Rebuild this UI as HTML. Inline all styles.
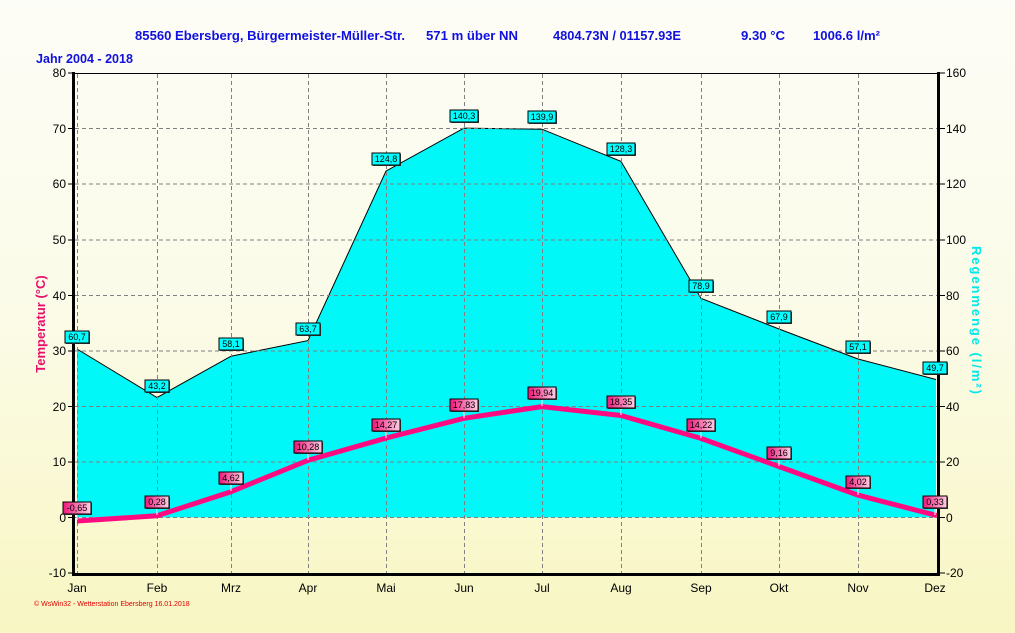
<!DOCTYPE html>
<html><head><meta charset="utf-8"><style>
html,body{margin:0;padding:0;width:1015px;height:633px;overflow:hidden}
body{background:linear-gradient(#fdfdf7 0%,#fbfbe8 50%,#f8f6c2 100%)}
text{font-family:"Liberation Sans",sans-serif}
</style></head><body>
<svg width="1015" height="633" viewBox="0 0 1015 633" xmlns="http://www.w3.org/2000/svg">
<defs>
<linearGradient id="pk" x1="0" x2="1" y1="0" y2="0"><stop offset="0" stop-color="#f0157a"/><stop offset="1" stop-color="#ffd0e4"/></linearGradient>
</defs>
<g font-weight="bold" font-size="13" fill="#1010e0">
<text x="135" y="40" textLength="270" lengthAdjust="spacingAndGlyphs">85560 Ebersberg, Bürgermeister-Müller-Str.</text>
<text x="426" y="40" textLength="92" lengthAdjust="spacingAndGlyphs">571 m über NN</text>
<text x="553" y="40" textLength="128" lengthAdjust="spacingAndGlyphs">4804.73N / 01157.93E</text>
<text x="741" y="40" textLength="44" lengthAdjust="spacingAndGlyphs">9.30 °C</text>
<text x="813" y="40" textLength="67" lengthAdjust="spacingAndGlyphs">1006.6 l/m²</text>
<text x="36" y="63" textLength="97" lengthAdjust="spacingAndGlyphs">Jahr  2004 - 2018</text>
</g>
<!-- rain area -->
<polygon points="77,517.4 77,349 157,397.5 231,356.2 308,340.6 386,171.1 464,128.1 542,129.2 621,161.4 701,298.4 779,329 858,359 936,379.5 936,517.4" fill="#00f8f8"/>
<polyline points="77,349 157,397.5 231,356.2 308,340.6 386,171.1 464,128.1 542,129.2 621,161.4 701,298.4 779,329 858,359 936,379.5" fill="none" stroke="#000" stroke-width="1"/>
<!-- grid -->
<g stroke="#808080" stroke-dasharray="4,3" stroke-width="1">
<line x1="75" x2="937" y1="128.5" y2="128.5"/><line x1="75" x2="937" y1="184" y2="184"/><line x1="75" x2="937" y1="240" y2="240"/><line x1="75" x2="937" y1="295.5" y2="295.5"/><line x1="75" x2="937" y1="351" y2="351"/><line x1="75" x2="937" y1="406.5" y2="406.5"/><line x1="75" x2="937" y1="462" y2="462"/><line x1="75" x2="937" y1="517.5" y2="517.5"/>
<line y1="74" y2="573" x1="77.5" x2="77.5"/><line y1="74" y2="573" x1="157.5" x2="157.5"/><line y1="74" y2="573" x1="231.5" x2="231.5"/><line y1="74" y2="573" x1="308.5" x2="308.5"/><line y1="74" y2="573" x1="386.5" x2="386.5"/><line y1="74" y2="573" x1="464.5" x2="464.5"/><line y1="74" y2="573" x1="542.5" x2="542.5"/><line y1="74" y2="573" x1="621.5" x2="621.5"/><line y1="74" y2="573" x1="701.5" x2="701.5"/><line y1="74" y2="573" x1="779.5" x2="779.5"/><line y1="74" y2="573" x1="858.5" x2="858.5"/>
</g>
<!-- temp line -->
<polyline points="77,521 157,515.8 231,491.7 308,460.3 386,438.1 464,418.3 542,406.6 621,415.5 701,438.4 779,466.5 858,495.1 937,515.6" fill="none" stroke="#ff0a80" stroke-width="5" stroke-linejoin="round"/>
<!-- axes -->
<line x1="73" y1="73.5" x2="939" y2="73.5" stroke="#000"/>
<line x1="73.5" y1="72" x2="73.5" y2="576" stroke="#000" stroke-width="3"/>
<line x1="938.5" y1="72" x2="938.5" y2="576" stroke="#000" stroke-width="3"/>
<line x1="72" y1="574.5" x2="940" y2="574.5" stroke="#000" stroke-width="3"/>
<g stroke="#000">
<line x1="68" x2="72" y1="73" y2="73"/><line x1="68" x2="72" y1="128.5" y2="128.5"/><line x1="68" x2="72" y1="184" y2="184"/><line x1="68" x2="72" y1="240" y2="240"/><line x1="68" x2="72" y1="295.5" y2="295.5"/><line x1="68" x2="72" y1="351" y2="351"/><line x1="68" x2="72" y1="406.5" y2="406.5"/><line x1="68" x2="72" y1="462" y2="462"/><line x1="68" x2="72" y1="517.5" y2="517.5"/><line x1="68" x2="72" y1="573" y2="573"/>
<line x1="940" x2="945" y1="73" y2="73"/><line x1="940" x2="945" y1="128.5" y2="128.5"/><line x1="940" x2="945" y1="184" y2="184"/><line x1="940" x2="945" y1="240" y2="240"/><line x1="940" x2="945" y1="295.5" y2="295.5"/><line x1="940" x2="945" y1="351" y2="351"/><line x1="940" x2="945" y1="406.5" y2="406.5"/><line x1="940" x2="945" y1="462" y2="462"/><line x1="940" x2="945" y1="517.5" y2="517.5"/><line x1="940" x2="945" y1="573" y2="573"/>
</g>
<g font-size="12" fill="#000" text-anchor="end">
<text x="66" y="77">80</text><text x="66" y="133">70</text><text x="66" y="188">60</text><text x="66" y="244">50</text><text x="66" y="300">40</text><text x="66" y="355">30</text><text x="66" y="411">20</text><text x="66" y="466">10</text><text x="66" y="522">0</text><text x="66" y="577">-10</text>
</g>
<g font-size="12" fill="#000">
<text x="946" y="77">160</text><text x="946" y="133">140</text><text x="946" y="188">120</text><text x="946" y="244">100</text><text x="946" y="300">80</text><text x="946" y="355">60</text><text x="946" y="411">40</text><text x="946" y="466">20</text><text x="946" y="522">0</text><text x="946" y="577">-20</text>
</g>
<g font-size="12" fill="#000" text-anchor="middle">
<text x="77" y="592">Jan</text><text x="157" y="592">Feb</text><text x="231" y="592">Mrz</text><text x="308" y="592">Apr</text><text x="386" y="592">Mai</text><text x="464" y="592">Jun</text><text x="542" y="592">Jul</text><text x="621" y="592">Aug</text><text x="701" y="592">Sep</text><text x="779" y="592">Okt</text><text x="858" y="592">Nov</text><text x="935" y="592">Dez</text>
</g>
<text transform="translate(45,324) rotate(-90)" text-anchor="middle" font-size="13" font-weight="bold" fill="#e8106a">Temperatur  (°C)</text>
<text transform="translate(972,320) rotate(90)" text-anchor="middle" font-size="13" font-weight="bold" fill="#00e8e8" textLength="148" lengthAdjust="spacing">Regenmenge  (l/m²)</text>
<text x="34" y="606" font-size="7" fill="#e00000">© WsWin32 - Wetterstation Ebersberg 16.01.2018</text>
<!-- rain labels -->
<g font-size="9" text-anchor="middle" fill="#000">
<g transform="translate(77,344)"><rect x="-11" y="-12" width="24" height="12" fill="#444"/><rect x="-12" y="-13" width="24" height="12" fill="#00ffff" stroke="#000"/><text y="-4">60,7</text></g>
<g transform="translate(157,393)"><rect x="-11" y="-12" width="24" height="12" fill="#444"/><rect x="-12" y="-13" width="24" height="12" fill="#00ffff" stroke="#000"/><text y="-4">43,2</text></g>
<g transform="translate(231,351)"><rect x="-11" y="-12" width="24" height="12" fill="#444"/><rect x="-12" y="-13" width="24" height="12" fill="#00ffff" stroke="#000"/><text y="-4">58,1</text></g>
<g transform="translate(308,336)"><rect x="-11" y="-12" width="24" height="12" fill="#444"/><rect x="-12" y="-13" width="24" height="12" fill="#00ffff" stroke="#000"/><text y="-4">63,7</text></g>
<g transform="translate(386,166)"><rect x="-13" y="-12" width="28" height="12" fill="#444"/><rect x="-14" y="-13" width="28" height="12" fill="#00ffff" stroke="#000"/><text y="-4">124,8</text></g>
<g transform="translate(464,123)"><rect x="-13" y="-12" width="28" height="12" fill="#444"/><rect x="-14" y="-13" width="28" height="12" fill="#00ffff" stroke="#000"/><text y="-4">140,3</text></g>
<g transform="translate(542,124)"><rect x="-13" y="-12" width="28" height="12" fill="#444"/><rect x="-14" y="-13" width="28" height="12" fill="#00ffff" stroke="#000"/><text y="-4">139,9</text></g>
<g transform="translate(621,156)"><rect x="-13" y="-12" width="28" height="12" fill="#444"/><rect x="-14" y="-13" width="28" height="12" fill="#00ffff" stroke="#000"/><text y="-4">128,3</text></g>
<g transform="translate(701,293)"><rect x="-11" y="-12" width="24" height="12" fill="#444"/><rect x="-12" y="-13" width="24" height="12" fill="#00ffff" stroke="#000"/><text y="-4">78,9</text></g>
<g transform="translate(779,324)"><rect x="-11" y="-12" width="24" height="12" fill="#444"/><rect x="-12" y="-13" width="24" height="12" fill="#00ffff" stroke="#000"/><text y="-4">67,9</text></g>
<g transform="translate(858,354)"><rect x="-11" y="-12" width="24" height="12" fill="#444"/><rect x="-12" y="-13" width="24" height="12" fill="#00ffff" stroke="#000"/><text y="-4">57,1</text></g>
<g transform="translate(935,375)"><rect x="-11" y="-12" width="24" height="12" fill="#444"/><rect x="-12" y="-13" width="24" height="12" fill="#00ffff" stroke="#000"/><text y="-4">49,7</text></g>
</g>
<!-- temp labels -->
<g font-size="9" text-anchor="middle" fill="#000">
<g transform="translate(77,515)"><line x1="0" x2="0" y1="0" y2="5" stroke="#fff"/><rect x="-13" y="-12" width="28" height="12" fill="#444"/><rect x="-14" y="-13" width="28" height="12" fill="url(#pk)" stroke="#000"/><text y="-4">-0,65</text></g>
<g transform="translate(157,509)"><line x1="0" x2="0" y1="0" y2="6" stroke="#fff"/><rect x="-11" y="-12" width="24" height="12" fill="#444"/><rect x="-12" y="-13" width="24" height="12" fill="url(#pk)" stroke="#000"/><text y="-4">0,28</text></g>
<g transform="translate(231,485)"><line x1="0" x2="0" y1="0" y2="6" stroke="#fff"/><rect x="-11" y="-12" width="24" height="12" fill="#444"/><rect x="-12" y="-13" width="24" height="12" fill="url(#pk)" stroke="#000"/><text y="-4">4,62</text></g>
<g transform="translate(308,454)"><line x1="0" x2="0" y1="0" y2="6" stroke="#fff"/><rect x="-13" y="-12" width="28" height="12" fill="#444"/><rect x="-14" y="-13" width="28" height="12" fill="url(#pk)" stroke="#000"/><text y="-4">10,28</text></g>
<g transform="translate(386,432)"><line x1="0" x2="0" y1="0" y2="6" stroke="#fff"/><rect x="-13" y="-12" width="28" height="12" fill="#444"/><rect x="-14" y="-13" width="28" height="12" fill="url(#pk)" stroke="#000"/><text y="-4">14,27</text></g>
<g transform="translate(464,412)"><line x1="0" x2="0" y1="0" y2="6" stroke="#fff"/><rect x="-13" y="-12" width="28" height="12" fill="#444"/><rect x="-14" y="-13" width="28" height="12" fill="url(#pk)" stroke="#000"/><text y="-4">17,83</text></g>
<g transform="translate(542,400)"><line x1="0" x2="0" y1="0" y2="6" stroke="#fff"/><rect x="-13" y="-12" width="28" height="12" fill="#444"/><rect x="-14" y="-13" width="28" height="12" fill="url(#pk)" stroke="#000"/><text y="-4">19,94</text></g>
<g transform="translate(621,409)"><line x1="0" x2="0" y1="0" y2="6" stroke="#fff"/><rect x="-13" y="-12" width="28" height="12" fill="#444"/><rect x="-14" y="-13" width="28" height="12" fill="url(#pk)" stroke="#000"/><text y="-4">18,35</text></g>
<g transform="translate(701,432)"><line x1="0" x2="0" y1="0" y2="6" stroke="#fff"/><rect x="-13" y="-12" width="28" height="12" fill="#444"/><rect x="-14" y="-13" width="28" height="12" fill="url(#pk)" stroke="#000"/><text y="-4">14,22</text></g>
<g transform="translate(779,460)"><line x1="0" x2="0" y1="0" y2="6" stroke="#fff"/><rect x="-11" y="-12" width="24" height="12" fill="#444"/><rect x="-12" y="-13" width="24" height="12" fill="url(#pk)" stroke="#000"/><text y="-4">9,16</text></g>
<g transform="translate(858,489)"><line x1="0" x2="0" y1="0" y2="6" stroke="#fff"/><rect x="-11" y="-12" width="24" height="12" fill="#444"/><rect x="-12" y="-13" width="24" height="12" fill="url(#pk)" stroke="#000"/><text y="-4">4,02</text></g>
<g transform="translate(935,509)"><line x1="0" x2="0" y1="0" y2="6" stroke="#fff"/><rect x="-11" y="-12" width="24" height="12" fill="#444"/><rect x="-12" y="-13" width="24" height="12" fill="url(#pk)" stroke="#000"/><text y="-4">0,33</text></g>
</g>
</svg>
</body></html>
